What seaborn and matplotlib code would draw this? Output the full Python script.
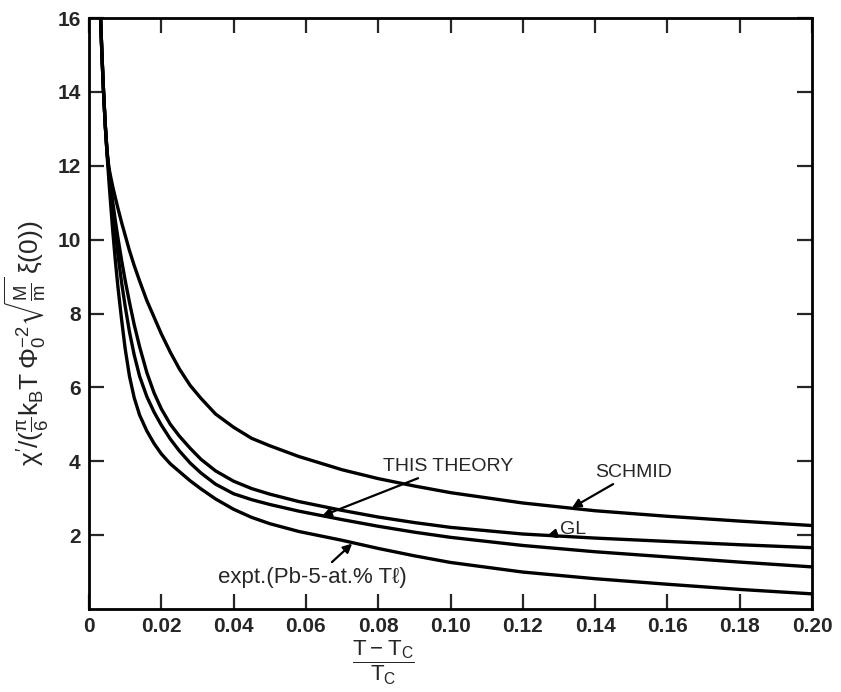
import matplotlib
matplotlib.use("Agg")
import matplotlib.pyplot as plt
from matplotlib.font_manager import FontProperties
import seaborn as sns
import pandas as pd

# reduced temperature (T-Tc)/Tc, shared by all four curves
x_vals = [0.0032, 0.0036, 0.0040, 0.0045, 0.0050, 0.0055, 0.0060, 0.0066, 0.0073, 0.0080,
          0.0090, 0.0100, 0.0112, 0.0125, 0.0140, 0.0160, 0.0180, 0.0200, 0.0225, 0.0250,
          0.0280, 0.0310, 0.0350, 0.0400, 0.0450, 0.0500, 0.0580, 0.0700, 0.0800, 0.0900,
          0.1000, 0.1200, 0.1400, 0.1600, 0.1800, 0.2000]

# values
schmid = [16.0, 14.95, 14.05, 13.1, 12.4, 11.95, 11.7, 11.42, 11.13, 10.85,
          10.47, 10.12, 9.7, 9.3, 8.88, 8.35, 7.9, 7.45, 6.95, 6.5,
          6.05, 5.7, 5.28, 4.92, 4.62, 4.42, 4.13, 3.77, 3.53, 3.33,
          3.15, 2.87, 2.66, 2.51, 2.38, 2.26]
gl = [16.0, 14.95, 14.05, 13.1, 12.35, 11.9, 11.47, 11.0, 10.5, 10.05,
      9.45, 8.9, 8.3, 7.7, 7.1, 6.4, 5.85, 5.42, 5.0, 4.68,
      4.35, 4.05, 3.74, 3.46, 3.26, 3.11, 2.91, 2.67, 2.49, 2.34,
      2.21, 2.03, 1.92, 1.83, 1.74, 1.66]
this_theory = [16.0, 14.95, 14.05, 13.1, 12.35, 11.82, 11.33, 10.8, 10.2, 9.6,
               8.85, 8.2, 7.5, 6.88, 6.3, 5.75, 5.33, 4.98, 4.6, 4.28,
               3.95, 3.68, 3.38, 3.12, 2.96, 2.83, 2.65, 2.42, 2.24, 2.08,
               1.94, 1.72, 1.55, 1.41, 1.27, 1.14]
expt = [16.0, 14.95, 14.05, 13.1, 12.3, 11.6, 10.95, 10.2, 9.42, 8.72,
        7.85, 7.05, 6.3, 5.72, 5.25, 4.82, 4.48, 4.2, 3.93, 3.72,
        3.47, 3.25, 2.98, 2.70, 2.48, 2.31, 2.10, 1.86, 1.64, 1.44,
        1.26, 1.0, 0.82, 0.67, 0.53, 0.41]

x_ticks = [0, 0.02, 0.04, 0.06, 0.08, 0.10, 0.12, 0.14, 0.16, 0.18, 0.20]
x_labels = ["0", "0.02", "0.04", "0.06", "0.08", "0.10", "0.12", "0.14", "0.16", "0.18", "0.20"]
y_ticks = [2, 4, 6, 8, 10, 12, 14, 16]
y_labels = ["2", "4", "6", "8", "10", "12", "14", "16"]

frames = []
for name, ys in [("SCHMID", schmid), ("GL", gl), ("THIS THEORY", this_theory), ("expt", expt)]:
    frames.append(pd.DataFrame({"x": x_vals, "y": ys, "curve": name}))
df = pd.concat(frames, ignore_index=True)

sns.set_theme(style="ticks")
plt.rcParams['font.family'] = ['Liberation Sans', 'DejaVu Sans']
plt.rcParams['mathtext.fontset'] = 'dejavusans'
plt.rcParams['mathtext.default'] = 'regular'

fig = plt.figure(figsize=(8.41, 6.92), dpi=100)
ax = fig.add_axes([89 / 841, 1 - 609 / 692, 723 / 841, 591 / 692])

sns.lineplot(data=df, x="x", y="y", hue="curve", units="curve", estimator=None, sort=False,
             palette=["black"] * 4, linewidth=2.4, legend=False, ax=ax)

ax.set_xlim(0, 0.20)
ax.set_ylim(0, 16)
ax.set_xticks(x_ticks)
ax.set_xticklabels(x_labels)
ax.set_yticks(y_ticks)
ax.set_yticklabels(y_labels)
tick_fp = FontProperties(family=['Liberation Sans', 'DejaVu Sans'], weight='bold', size=15)
for lab in ax.get_xticklabels() + ax.get_yticklabels():
    lab.set_fontproperties(tick_fp)
ax.tick_params(direction='in', length=11, width=1.6, top=True, right=True,
               labeltop=False, labelright=False, pad=6)
for sp in ax.spines.values():
    sp.set_linewidth(2.0)
    sp.set_color('black')

ax.set_ylabel(r"$\chi'/(\frac{\pi}{6}k_BT\,\Phi_0^{-2}\sqrt{\frac{M}{m}}\,\xi(0))$", fontsize=19)
ax.yaxis.set_label_coords(-0.052, 0.45)
ax.set_xlabel(r"$\dfrac{T - T_C}{T_C}$", fontsize=16)
ax.xaxis.set_label_coords((383 - 89) / 723, -0.050)

arrow = dict(arrowstyle='-|>', color='black', lw=1.6, mutation_scale=13, shrinkA=0, shrinkB=0)
ax.annotate("THIS THEORY", xy=(0.0645, 2.52), xytext=(0.0813, 3.86),
            fontsize=14, va='center', ha='left', arrowprops=arrow)
ax.annotate("SCHMID", xy=(0.1336, 2.74), xytext=(0.1400, 3.70),
            fontsize=14, va='center', ha='left', arrowprops=arrow)
ax.annotate("GL", xy=(0.1267, 1.98), xytext=(0.1303, 2.16),
            fontsize=14, va='center', ha='left', arrowprops=arrow)
ax.annotate("", xy=(0.0728, 1.77), xytext=(0.0672, 1.27), arrowprops=arrow)
ax.text(0.0357, 0.84, "expt.(Pb-5-at.% Tℓ)", fontsize=16, va='center', ha='left')

fig.savefig("out.png", dpi=100)
